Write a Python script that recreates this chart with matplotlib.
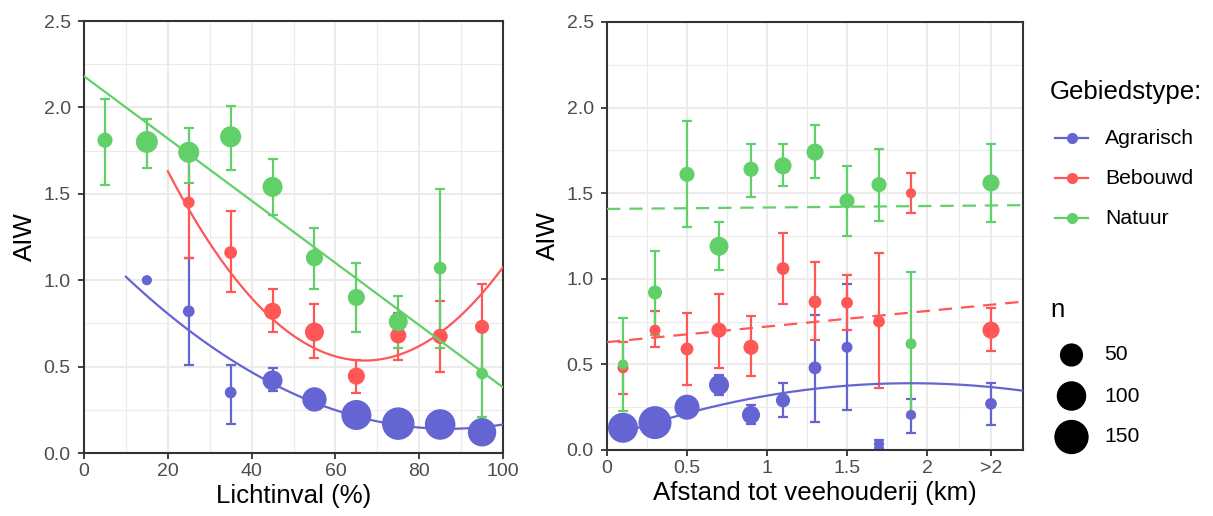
import numpy as np
import matplotlib
matplotlib.use("Agg")
import matplotlib.pyplot as plt

plt.rcParams['font.family'] = ['Liberation Sans', 'DejaVu Sans']

# kleuren per gebiedstype
groups = ['Agrarisch', 'Bebouwd', 'Natuur']
colors = {'Agrarisch': '#6464D2', 'Bebouwd': '#FF5656', 'Natuur': '#62D068'}

# ---- paneel 1: lichtinval (%) ----
licht_x = {
    'Agrarisch': [15, 25, 35, 45, 55, 65, 75, 85, 95],
    'Bebouwd':   [25, 35, 45, 55, 65, 75, 85, 95],
    'Natuur':    [5, 15, 25, 35, 45, 55, 65, 75, 85, 95],
}
licht_y = {
    'Agrarisch': [1.00, 0.82, 0.35, 0.42, 0.31, 0.22, 0.17, 0.165, 0.12],
    'Bebouwd':   [1.45, 1.16, 0.82, 0.70, 0.445, 0.68, 0.675, 0.73],
    'Natuur':    [1.81, 1.80, 1.74, 1.83, 1.54, 1.13, 0.90, 0.76, 1.07, 0.46],
}
licht_lo = {
    'Agrarisch': [1.00, 0.51, 0.17, 0.36, 0.27, 0.19, 0.14, 0.13, 0.09],
    'Bebouwd':   [1.13, 0.93, 0.70, 0.55, 0.35, 0.54, 0.47, 0.46],
    'Natuur':    [1.55, 1.65, 1.56, 1.64, 1.38, 0.95, 0.70, 0.61, 0.61, 0.21],
}
licht_hi = {
    'Agrarisch': [1.00, 1.13, 0.51, 0.49, 0.35, 0.25, 0.20, 0.20, 0.15],
    'Bebouwd':   [1.78, 1.40, 0.95, 0.86, 0.54, 0.81, 0.88, 0.98],
    'Natuur':    [2.05, 1.93, 1.88, 2.01, 1.70, 1.30, 1.10, 0.91, 1.53, 0.71],
}
licht_n = {
    'Agrarisch': [1, 3, 3, 31, 58, 105, 130, 110, 90],
    'Bebouwd':   [3, 5, 18, 26, 18, 14, 11, 8],
    'Natuur':    [11, 42, 37, 37, 31, 18, 18, 26, 5, 3],
}

# ---- paneel 2: afstand tot veehouderij (km) ----
afstand_ticks = [0, 0.5, 1, 1.5, 2, 2.4]
afstand_labels = ['0', '0.5', '1', '1.5', '2', '>2']
afstand_x = [0.1, 0.3, 0.5, 0.7, 0.9, 1.1, 1.3, 1.5, 1.7, 1.9, 2.4]
afstand_y = {
    'Agrarisch': [0.13, 0.16, 0.25, 0.38, 0.205, 0.29, 0.48, 0.60, 0.035, 0.205, 0.27],
    'Bebouwd':   [0.48, 0.70, 0.59, 0.70, 0.60, 1.06, 0.865, 0.86, 0.75, 1.50, 0.70],
    'Natuur':    [0.50, 0.92, 1.61, 1.19, 1.64, 1.66, 1.74, 1.455, 1.55, 0.62, 1.56],
}
afstand_lo = {
    'Agrarisch': [0.11, 0.14, 0.22, 0.32, 0.15, 0.19, 0.165, 0.235, 0.01, 0.10, 0.145],
    'Bebouwd':   [0.33, 0.60, 0.38, 0.48, 0.43, 0.85, 0.64, 0.70, 0.36, 1.385, 0.58],
    'Natuur':    [0.23, 0.67, 1.30, 1.05, 1.48, 1.54, 1.59, 1.25, 1.34, 0.19, 1.33],
}
afstand_hi = {
    'Agrarisch': [0.15, 0.18, 0.28, 0.44, 0.26, 0.39, 0.79, 0.97, 0.06, 0.30, 0.39],
    'Bebouwd':   [0.63, 0.81, 0.80, 0.91, 0.78, 1.27, 1.10, 1.02, 1.15, 1.62, 0.83],
    'Natuur':    [0.77, 1.16, 1.92, 1.33, 1.79, 1.79, 1.90, 1.66, 1.76, 1.04, 1.79],
}
afstand_n = {
    'Agrarisch': [105, 135, 63, 31, 22, 8, 5, 2, 1, 1, 3],
    'Bebouwd':   [2, 2, 5, 11, 11, 5, 5, 3, 3, 1, 18],
    'Natuur':    [1, 8, 11, 26, 11, 18, 18, 11, 11, 2, 18],
}

licht_fit = {
    'Agrarisch': ('quad', 0.0001484, 87, 0.14, 10, 100),
    'Bebouwd':   ('quad', 0.000496, 67, 0.535, 20, 100),
    'Natuur':    ('lin', -0.018, 2.18, None, 0, 100),
}
afstand_fit = {
    'Agrarisch': ('quad', -0.0895, 1.9, 0.39, 0.1, 2.6),
    'Bebouwd':   ('lin', 0.091, 0.63, None, 0, 2.6),
    'Natuur':    ('lin', 0.0085, 1.408, None, 0, 2.6),
}
afstand_dashed = {'Agrarisch': False, 'Bebouwd': True, 'Natuur': True}

legend_n = [50, 100, 150]

LW = 1.6


def marker_area(n):
    d_px = 8 + 2.15 * np.sqrt(np.asarray(n, dtype=float))
    return (d_px * 0.72) ** 2


def fit_curve(spec):
    kind, p1, p2, p3, x0, x1 = spec
    xs = np.linspace(x0, x1, 200)
    if kind == 'quad':
        return xs, p1 * (xs - p2) ** 2 + p3
    return xs, p1 * xs + p2


def style_axes(ax):
    ax.set_facecolor('white')
    ax.grid(True, which='major', color='#EBEBEB', linewidth=1.5, zorder=0)
    ax.grid(True, which='minor', color='#EBEBEB', linewidth=0.8, zorder=0)
    ax.set_axisbelow(True)
    for s in ax.spines.values():
        s.set_color('#333333')
        s.set_linewidth(1.5)
    ax.tick_params(which='major', length=4.5, width=1.3, color='#333333',
                   labelcolor='#4D4D4D', labelsize=14)
    ax.tick_params(axis='x', which='major', pad=3)
    ax.tick_params(axis='y', which='major', pad=5)
    ax.tick_params(which='minor', length=0)
    ax.set_ylim(0, 2.5)
    ax.set_yticks([0, 0.5, 1.0, 1.5, 2.0, 2.5])
    ax.set_yticklabels(['0.0', '0.5', '1.0', '1.5', '2.0', '2.5'])
    ax.set_yticks([0.25, 0.75, 1.25, 1.75, 2.25], minor=True)
    ax.set_ylabel('AIW', fontsize=18.6, color='black', labelpad=5)


fig = plt.figure(figsize=(12.13, 5.16), dpi=100)
W, H = 1213, 516
ax1 = fig.add_axes([84 / W, 1 - 453 / H, (503 - 84) / W, (453 - 21) / H])
ax2 = fig.add_axes([607 / W, 1 - 450 / H, (1023 - 607) / W, (450 - 22) / H])

# paneel 1
style_axes(ax1)
ax1.set_xlim(0, 100)
ax1.set_xticks([0, 20, 40, 60, 80, 100])
ax1.set_xticks([10, 30, 50, 70, 90], minor=True)
ax1.set_xlabel('Lichtinval (%)', fontsize=18.6, color='black', labelpad=2.5)
for g in groups:
    x = np.array(licht_x[g])
    y = np.array(licht_y[g])
    lo = np.array(licht_lo[g])
    hi = np.array(licht_hi[g])
    ax1.errorbar(x, y, yerr=[y - lo, hi - y], fmt='none', ecolor=colors[g],
                 elinewidth=LW, capsize=3.4, capthick=LW, zorder=2)
    ax1.scatter(x, y, s=marker_area(licht_n[g]), color=colors[g],
                edgecolors='none', zorder=3)
for g in groups:
    xs, ys = fit_curve(licht_fit[g])
    ax1.plot(xs, ys, color=colors[g], linewidth=LW, zorder=4)

# paneel 2
style_axes(ax2)
ax2.set_xlim(0, 2.6)
ax2.set_xticks(afstand_ticks)
ax2.set_xticklabels(afstand_labels)
ax2.set_xticks([0.25, 0.75, 1.25, 1.75, 2.2], minor=True)
ax2.set_xlabel('Afstand tot veehouderij (km)', fontsize=18.6, color='black', labelpad=2.5)
for g in groups:
    x = np.array(afstand_x)
    y = np.array(afstand_y[g])
    lo = np.array(afstand_lo[g])
    hi = np.array(afstand_hi[g])
    ax2.errorbar(x, y, yerr=[y - lo, hi - y], fmt='none', ecolor=colors[g],
                 elinewidth=LW, capsize=3.4, capthick=LW, zorder=2)
    ax2.scatter(x, y, s=marker_area(afstand_n[g]), color=colors[g],
                edgecolors='none', zorder=3)
for g in groups:
    xs, ys = fit_curve(afstand_fit[g])
    if afstand_dashed[g]:
        ax2.plot(xs, ys, color=colors[g], linewidth=LW, dashes=(6, 4), zorder=4)
    else:
        ax2.plot(xs, ys, color=colors[g], linewidth=LW, zorder=4)

# legenda's in eigen assenstelsel (pixelcoordinaten)
lax = fig.add_axes([1040 / W, 0, (W - 1040) / W, 1])
lax.set_xlim(1040, W)
lax.set_ylim(H, 0)
lax.axis('off')
lax.text(1050, 92, 'Gebiedstype:', fontsize=18.6, va='center', ha='left')
for i, g in enumerate(groups):
    yy = 138 + 40 * i
    lax.plot([1055, 1088], [yy, yy], color=colors[g], linewidth=LW)
    lax.plot([1071.5], [yy], marker='o', markersize=7, color=colors[g])
    lax.text(1105, yy, g, fontsize=15.2, va='center', ha='left')
lax.text(1050, 310, 'n', fontsize=18.6, va='center', ha='left')
for i, nv in enumerate(legend_n):
    yy = 355 + 41 * i
    lax.scatter([1071.5], [yy], s=marker_area(nv), color='black', edgecolors='none')
    lax.text(1104, yy, str(nv), fontsize=15.2, va='center', ha='left')

fig.savefig('out.png', dpi=100, facecolor='white')
